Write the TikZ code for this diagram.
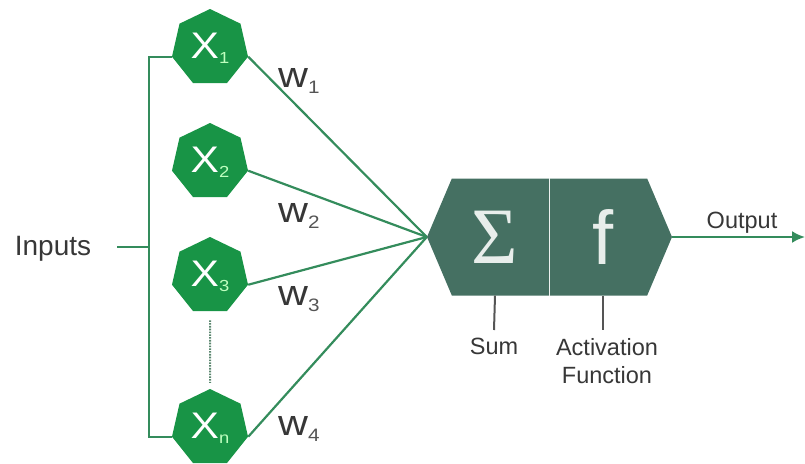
\documentclass[tikz,border=0pt]{standalone}
\usepackage{fontspec}
\setmainfont{Liberation Sans}
\newfontfamily\widefont{Liberation Sans}[FakeStretch=1.15]
\newfontfamily\greekfont{Liberation Serif}
\usetikzlibrary{arrows.meta,shapes.geometric,shapes.symbols}
\definecolor{nodegreen}{RGB}{24,148,70}
\definecolor{wiregreen}{RGB}{52,140,92}
\definecolor{boxteal}{RGB}{69,112,98}
\definecolor{textgray}{RGB}{55,55,55}
\definecolor{glyphgray}{RGB}{232,238,235}
\newcommand{\insub}[1]{\raisebox{-5pt}{\fontsize{16}{16}\selectfont\color{green!25!white}#1}}
\newcommand{\wsub}[1]{\raisebox{-6pt}{\fontsize{18}{18}\selectfont\color{textgray!85!white}#1}}

\begin{document}
\begin{tikzpicture}[x=1pt,y=-1pt,
 input/.style={regular polygon,regular polygon sides=7,minimum size=78pt,inner sep=0pt,
   fill=nodegreen,text=white,font=\widefont\fontsize{37}{37}\selectfont},
 neuron/.style={signal,signal to=east and west,signal pointer angle=134,fill=boxteal,
   minimum width=245pt,minimum height=117pt,inner sep=0pt},
 glyph/.style={text=glyphgray,inner sep=0pt},
 wire/.style={wiregreen,line width=2.2pt},
 weight/.style={anchor=base west,inner sep=0pt,text=textgray,font=\widefont\fontsize{36}{36}\selectfont},
 lbl/.style={text=textgray,font=\fontsize{23.5}{28}\selectfont,align=center},
 stub/.style={textgray!85,line width=2pt},
 arr/.style={wire,-{Latex[length=13pt,width=12pt]}}]
\useasboundingbox (0,0) rectangle (805,463);
% inputs
\node[lbl,anchor=base,font=\fontsize{28}{28}\selectfont] (inputs) at (53,255) {Inputs};
\node[input] (x1) at (210,48) {X\insub{1}};
\node[input] (x2) at (210,162) {X\insub{2}};
\node[input] (x3) at (210,276) {X\insub{3}};
\node[input] (xn) at (210,428) {X\insub{n}};
\coordinate (tap) at (117,247);
\coordinate (bus) at (149,247);
% weights
\node[weight] (w1) at (278,87) {w\wsub{1}};
\node[weight] (w2) at (278,222) {w\wsub{2}};
\node[weight] (w3) at (278,305) {w\wsub{3}};
\node[weight] (w4) at (278,435) {w\wsub{4}};
% neuron
\node[neuron] (sn) at (549.5,237) {};
\node[glyph,font=\greekfont\fontsize{80}{80}\selectfont] (sigma) at (495,237) {Σ};
\node[glyph,font=\fontsize{76}{76}\selectfont] (fn) at (603,237) {f};
\node[lbl,anchor=north,inner sep=8pt] (sum) at (494,330) {Sum};
\node[lbl,anchor=north,inner sep=8pt] (act) at (607,330) {Activation\\Function};
\node[lbl,anchor=base] (outlbl) at (742,228) {Output};
\coordinate (out) at (805,237);
% connectors
\draw[wire] (tap) -- (bus);
\draw[wire] (x1.corner 3) -| (bus) |- (xn.corner 3);
\foreach \i in {x1,x2,x3,xn}
  \draw[wire] (\i.corner 6) -- (sn.west);
\draw[wiregreen!50!gray,line width=2pt,dash pattern=on 1.6pt off 1.2pt,shorten <=9pt,shorten >=6pt] (x3.south) -- (xn.north);
\draw[glyphgray!80,line width=1.5pt] (sn.north) -- (sn.south);
\draw[stub] (sigma |- sn.south) -- (sum.north);
\draw[stub] (fn |- sn.south) -- (fn |- act.north);
\draw[arr] (sn.east) -- (out);
\end{tikzpicture}
\end{document}
